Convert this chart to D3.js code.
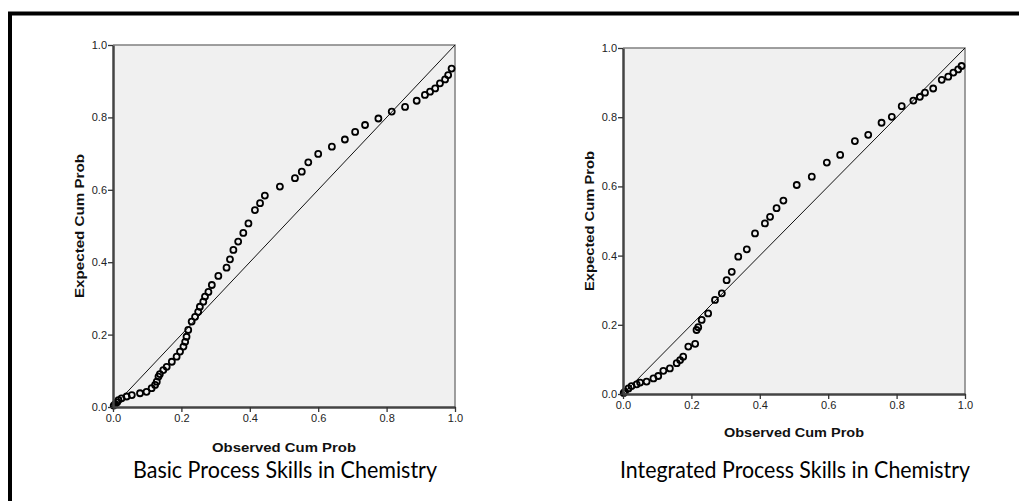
<!DOCTYPE html>
<html>
<head>
<meta charset="utf-8">
<script src="https://cdn.jsdelivr.net/npm/d3@7"></script>
<style>
  body { margin: 0; background: #fff; }
  svg { display: block; }
</style>
</head>
<body>
<div id="chart"></div>
<script>
// P-P plot values
var tickValues = [0.0, 0.2, 0.4, 0.6, 0.8, 1.0];

var basicObserved = [0.002,0.006,0.012,0.016,0.025,0.040,0.055,0.079,0.098,0.113,
  0.123,0.128,0.133,0.137,0.147,0.157,0.172,0.186,0.196,0.206,
  0.211,0.215,0.220,0.230,0.240,0.249,0.254,0.264,0.269,0.279,
  0.289,0.308,0.332,0.342,0.352,0.366,0.381,0.396,0.415,0.430,
  0.444,0.488,0.532,0.552,0.571,0.600,0.640,0.678,0.708,0.737,
  0.776,0.815,0.854,0.888,0.912,0.927,0.942,0.956,0.971,0.980,0.990];
var basicExpected = [0.004,0.008,0.013,0.019,0.024,0.029,0.033,0.038,0.042,0.052,
  0.061,0.070,0.084,0.091,0.102,0.111,0.125,0.139,0.153,0.167,
  0.180,0.194,0.213,0.236,0.249,0.263,0.277,0.291,0.305,0.318,
  0.337,0.362,0.385,0.408,0.434,0.457,0.481,0.507,0.544,0.563,
  0.584,0.609,0.632,0.650,0.676,0.699,0.719,0.739,0.760,0.779,
  0.797,0.816,0.829,0.846,0.862,0.871,0.880,0.894,0.905,0.917,0.935];

var integratedObserved = [0.002,0.006,0.016,0.025,0.040,0.050,0.069,0.089,0.103,0.118,
  0.137,0.157,0.167,0.176,0.191,0.211,0.215,0.220,0.230,0.249,
  0.269,0.289,0.303,0.318,0.337,0.362,0.386,0.415,0.430,0.449,
  0.469,0.508,0.552,0.596,0.635,0.678,0.717,0.756,0.786,0.815,
  0.849,0.868,0.883,0.907,0.932,0.951,0.966,0.980,0.990];
var integratedExpected = [0.003,0.007,0.016,0.023,0.028,0.033,0.036,0.045,0.052,0.067,
  0.074,0.089,0.098,0.108,0.137,0.145,0.185,0.193,0.214,0.233,
  0.272,0.291,0.329,0.353,0.397,0.418,0.464,0.493,0.512,0.537,
  0.559,0.604,0.628,0.669,0.691,0.731,0.749,0.784,0.801,0.832,
  0.848,0.859,0.871,0.883,0.908,0.917,0.929,0.938,0.948];

var xTitle = "Observed Cum Prob";
var yTitle = "Expected Cum Prob";
var captions = ["Basic Process Skills in Chemistry", "Integrated Process Skills in Chemistry"];

var width = 1019, height = 501;

var svg = d3.select("#chart").append("svg")
    .attr("width", width)
    .attr("height", height);

// outer frame, only top and left edges are in view
svg.append("path")
    .attr("d", "M10,501 L10,13.5 L1019,13.5")
    .attr("fill", "none")
    .attr("stroke", "#000")
    .attr("stroke-width", 4);

function ppPlot(box, observed, expected, caption)
{
    var x = d3.scaleLinear().domain([0, 1]).range([box.left, box.right]);
    var y = d3.scaleLinear().domain([0, 1]).range([box.bottom, box.top]);
    var g = svg.append("g");

    g.append("rect")
        .attr("x", x(0))
        .attr("y", y(1))
        .attr("width", x(1) - x(0))
        .attr("height", y(0) - y(1))
        .attr("fill", "#f0f0f0");

    // top / right frame lines
    g.append("path")
        .attr("d", "M" + x(0) + "," + y(1) + "H" + x(1) + "V" + y(0))
        .attr("fill", "none")
        .attr("stroke", "#808080")
        .attr("stroke-width", 1.5);

    // reference diagonal
    g.append("line")
        .attr("x1", x(0)).attr("y1", y(0))
        .attr("x2", x(1)).attr("y2", y(1))
        .attr("stroke", "#111")
        .attr("stroke-width", 1);

    var pts = observed.map(function(d, i) { return [d, expected[i]]; });
    g.selectAll(".pt")
        .data(pts)
        .enter().append("circle")
        .attr("class", "pt")
        .attr("cx", function(d) { return x(d[0]); })
        .attr("cy", function(d) { return y(d[1]); })
        .attr("r", 3)
        .attr("fill", "none")
        .attr("stroke", "#000")
        .attr("stroke-width", 1.8);

    var fmt = d3.format(".1f");
    var xAxis = g.append("g")
        .attr("transform", "translate(0," + y(0) + ")")
        .call(d3.axisBottom(x).tickValues(tickValues).tickFormat(fmt).tickSize(5).tickSizeOuter(0));
    var yAxis = g.append("g")
        .attr("transform", "translate(" + x(0) + ",0)")
        .call(d3.axisLeft(y).tickValues(tickValues).tickFormat(fmt).tickSize(5).tickSizeOuter(0));

    [xAxis, yAxis].forEach(function(a) {
        a.attr("font-size", null).attr("font-family", null);
        a.select(".domain").attr("stroke", "#444").attr("stroke-width", 2.5);
        a.selectAll(".tick line").attr("stroke", "#333").attr("stroke-width", 1.3);
        a.selectAll(".tick text")
            .style("font-family", "'Liberation Sans', Arial, sans-serif")
            .style("font-size", "11px")
            .attr("fill", "#222");
    });
    xAxis.selectAll(".tick text").attr("dy", "0.71em").attr("y", 7);
    yAxis.selectAll(".tick text").attr("x", -6);

    var cx = (box.left + box.right) / 2;
    var cy = (box.top + box.bottom) / 2;

    g.append("text")
        .attr("x", cx)
        .attr("y", box.bottom + box.xTitleGap)
        .attr("text-anchor", "middle")
        .attr("font-family", "Liberation Sans, Arial, sans-serif")
        .attr("font-weight", "bold")
        .attr("font-size", "13.5px")
        .attr("textLength", box.titleLen)
        .attr("lengthAdjust", "spacingAndGlyphs")
        .attr("fill", "#111")
        .text(xTitle);

    g.append("text")
        .attr("transform", "translate(" + box.yTitleX + "," + cy + ") rotate(-90)")
        .attr("text-anchor", "middle")
        .attr("font-family", "Liberation Sans, Arial, sans-serif")
        .attr("font-weight", "bold")
        .attr("font-size", "13.5px")
        .attr("textLength", box.titleLen)
        .attr("lengthAdjust", "spacingAndGlyphs")
        .attr("fill", "#111")
        .text(yTitle);

    g.append("text")
        .attr("x", cx + box.capShift)
        .attr("y", 478)
        .attr("text-anchor", "middle")
        .attr("font-family", "Lato, sans-serif")
        .attr("font-size", "23px")
        .attr("textLength", box.capLen)
        .attr("lengthAdjust", "spacingAndGlyphs")
        .attr("fill", "#000")
        .text(caption);
}

ppPlot({left: 113, right: 455, top: 45, bottom: 407, xTitleGap: 45, yTitleX: 84, titleLen: 144, capLen: 304, capShift: 1},
       basicObserved, basicExpected, captions[0]);
ppPlot({left: 623, right: 965, top: 48, bottom: 394, xTitleGap: 43, yTitleX: 594, titleLen: 140, capLen: 350, capShift: 1},
       integratedObserved, integratedExpected, captions[1]);
</script>
</body>
</html>
